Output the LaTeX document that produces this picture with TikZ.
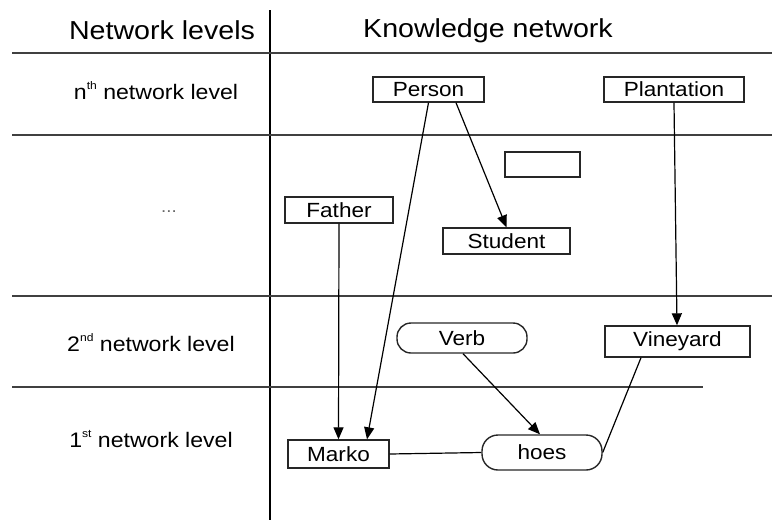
\documentclass[tikz,border=0pt]{standalone}
\usepackage{fontspec}
\usepackage{graphicx}
\setmainfont{Liberation Sans}
\usetikzlibrary{arrows.meta}
\newcommand\hstr[1]{\scalebox{1.1}[1]{#1}}
\newcommand\supr[1]{\raisebox{0.45em}{\fontsize{11}{11}\selectfont#1}}
\begin{document}
\begin{tikzpicture}[x=1pt,y=-1pt,
  box/.style={draw=black!85, line width=1.4pt, inner sep=0pt, font=\fontsize{20.5}{22}\selectfont},
  pill/.style={box, rounded corners=14pt},
  sep/.style={draw=black!75, line width=2pt},
  vsep/.style={draw=black, line width=1.3pt},
  conn/.style={draw=black, line width=1.2pt},
  arr/.style={conn, -{Triangle[length=12pt,width=10pt]}},
  lvl/.style={font=\fontsize{21}{22}\selectfont, anchor=base, inner sep=0pt},
  head/.style={font=\fontsize{26}{28}\selectfont, anchor=base, inner sep=0pt}]
\useasboundingbox (0,0) rectangle (772,520);
% grid
\draw[vsep] (270,10) -- (270,520);
\draw[sep] (12,52.5) -- (772,52.5);
\draw[sep] (12,135) -- (772,135);
\draw[sep] (12,296) -- (772,296);
\draw[sep] (12,387) -- (703,387);
% headings
\node[head] (hl) at (162,39) {\hstr{Network levels}};
\node[head] (hk) at (488,37) {\hstr{Knowledge network}};
% level labels
\node[lvl] (ln) at (156,99) {\hstr{n\supr{th} network level}};
\node[lvl, text=black!60, font=\fontsize{17}{18}\selectfont] (ld) at (169,212) {\hstr{...}};
\node[lvl] (l2) at (151,351) {\hstr{2\supr{nd} network level}};
\node[lvl] (l1) at (151,447) {\hstr{1\supr{st} network level}};
% nodes
\node[box, minimum width=111pt, minimum height=25pt] (person) at (428.5,89.5) {\hstr{Person}};
\node[box, minimum width=140pt, minimum height=25pt] (plant) at (674,89.5) {\hstr{Plantation}};
\node[box, minimum width=75pt, minimum height=25pt] (empty) at (542.5,164.5) {};
\node[box, minimum width=108pt, minimum height=26pt] (father) at (339,210) {\hstr{Father}};
\node[box, minimum width=127pt, minimum height=26pt] (student) at (506.5,241) {\hstr{Student}};
\node[pill, minimum width=130pt, minimum height=30pt] (verb) at (462,338) {\hstr{Verb}};
\node[box, minimum width=145pt, minimum height=31pt] (vine) at (677.5,341.5) {\hstr{Vineyard}};
\node[box, minimum width=101pt, minimum height=28pt] (marko) at (338.5,454) {\hstr{Marko}};
\node[pill, rounded corners=16pt, minimum width=120pt, minimum height=35pt] (hoes) at (542,452.5) {\hstr{hoes}};
% connectors
\draw[arr] (person.south) -- ([xshift=28.5pt]marko.north);
\draw[arr] ([xshift=27.5pt]person.south) -- (student.north);
\draw[arr] (plant.south) -- ([xshift=-0.5pt]vine.north);
\draw[arr] (father.south) -- (marko.north);
\draw[arr] ([xshift=1pt]verb.south) -- ([xshift=-2pt]hoes.north);
\draw[conn] (marko.east) -- (hoes.west);
\draw[conn] ([xshift=-36.5pt]vine.south) -- (hoes.east);
\end{tikzpicture}
\end{document}
